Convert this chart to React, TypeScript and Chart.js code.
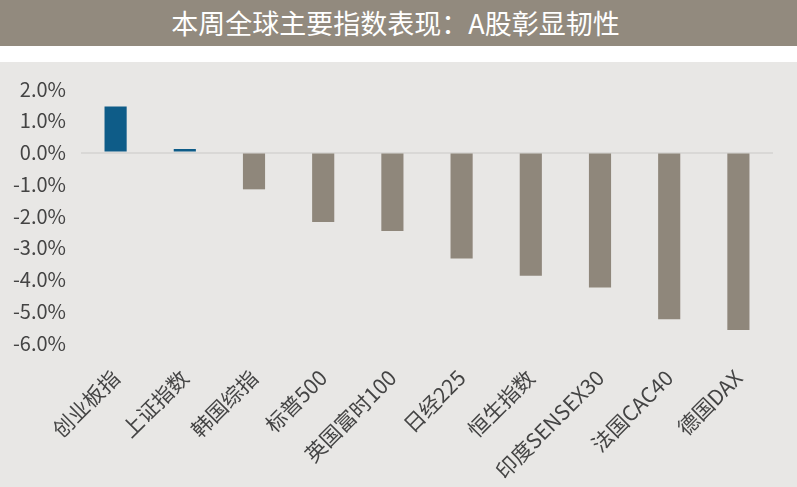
import { useEffect, useRef } from "react";
import Chart from "chart.js/auto";

const categories = [
  "创业板指",
  "上证指数",
  "韩国综指",
  "标普500",
  "英国富时100",
  "日经225",
  "恒生指数",
  "印度SENSEX30",
  "法国CAC40",
  "德国DAX",
];

// weekly change, %
const changes = [1.45, 0.11, -1.16, -2.19, -2.47, -3.34, -3.88, -4.25, -5.25, -5.59];

const yTicks = [2, 1, 0, -1, -2, -3, -4, -5, -6];

const UP_COLOR = "#0E5C88";
const DOWN_COLOR = "#8F877B";
const FONT = '"Noto Sans CJK SC", "Noto Sans", sans-serif';

function WeeklyIndexChart() {
  const canvasRef = useRef<HTMLCanvasElement | null>(null);
  const chartRef = useRef<Chart<"bar", number[], string> | null>(null);

  useEffect(() => {
    if (!canvasRef.current) return;
    const ctx = canvasRef.current.getContext("2d");
    if (!ctx) return;

    if (chartRef.current) chartRef.current.destroy();

    chartRef.current = new Chart(ctx, {
      type: "bar",
      data: {
        labels: categories,
        datasets: [
          {
            data: changes,
            backgroundColor: changes.map((v) => (v >= 0 ? UP_COLOR : DOWN_COLOR)),
            categoryPercentage: 1,
            barPercentage: 0.32,
          },
        ],
      },
      options: {
        animation: false,
        responsive: false,
        maintainAspectRatio: false,
        layout: { padding: { top: 25, right: 24, left: 0, bottom: 0 } },
        scales: {
          y: {
            min: -6,
            max: 2,
            afterFit: (scale) => {
              scale.width = 81;
            },
            afterBuildTicks: (scale) => {
              scale.ticks = yTicks.map((v) => ({ value: v }));
            },
            border: { display: false },
            grid: {
              drawTicks: false,
              color: (c) => (c.tick && c.tick.value === 0 ? "#D9D8D6" : "rgba(0,0,0,0)"),
              lineWidth: 2,
            },
            ticks: {
              padding: 15,
              color: "#444444",
              font: { family: FONT, size: 20 },
              callback: (v) => Number(v).toFixed(1) + "%",
            },
          },
          x: {
            afterFit: (scale) => {
              scale.height = 144;
            },
            border: { display: false },
            grid: { display: false, drawTicks: false },
            ticks: {
              minRotation: 45,
              maxRotation: 45,
              padding: 22,
              autoSkip: false,
              color: "#444444",
              font: { family: FONT, size: 21 },
            },
          },
        },
        plugins: {
          legend: { display: false },
          tooltip: { enabled: false },
        },
      },
    });

    return () => {
      if (chartRef.current) {
        chartRef.current.destroy();
        chartRef.current = null;
      }
    };
  }, []);

  return <canvas ref={canvasRef} width={797} height={425} style={{ display: "block" }} />;
}

export default function App() {
  useEffect(() => {
    document.body.style.margin = "0";
    document.body.style.background = "#FFFFFF";
  }, []);

  return (
    <div style={{ width: 797, height: 487, background: "#FFFFFF", overflow: "hidden" }}>
      <div
        style={{
          height: 46,
          lineHeight: "46px",
          background: "#928A7E",
          color: "#FFFFFF",
          textAlign: "center",
          fontFamily: FONT,
          fontSize: 27,
          paddingRight: 6,
        }}
      >
        本周全球主要指数表现：A股彰显韧性
      </div>
      <div style={{ height: 16 }} />
      <div style={{ height: 425, background: "#E8E7E5" }}>
        <WeeklyIndexChart />
      </div>
    </div>
  );
}
